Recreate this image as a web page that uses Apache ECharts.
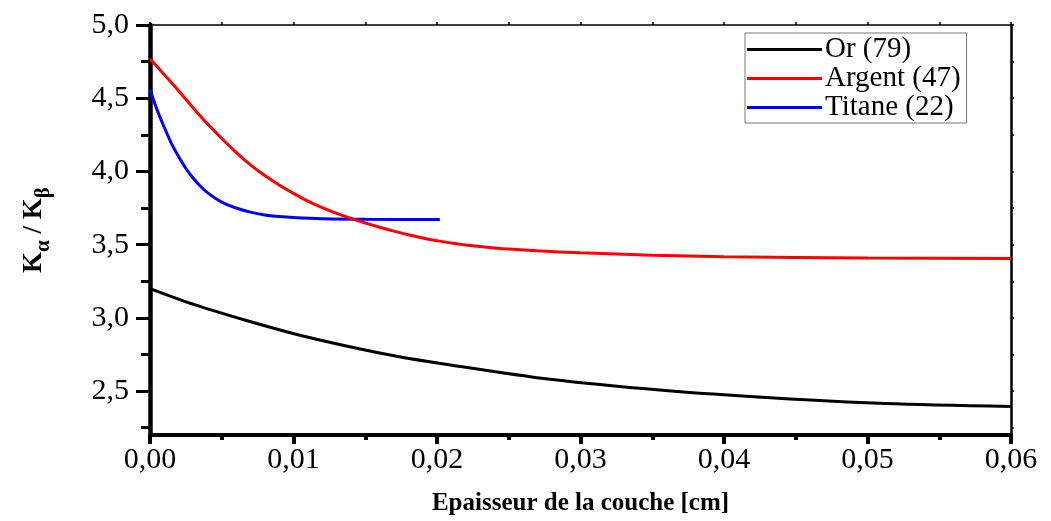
<!DOCTYPE html>
<html>
<head>
<meta charset="utf-8">
<script src="https://cdn.jsdelivr.net/npm/echarts@6.0.0/dist/echarts.min.js"></script>
<style>
html,body{margin:0;padding:0;background:#fff;}
#chart{width:1051px;height:521px;}
</style>
</head>
<body>
<div id="chart"></div>
<script>
// ---- data ----
var seriesNames = ['Or (79)', 'Argent (47)', 'Titane (22)'];
var seriesColors = ['#000000', '#ff0000', '#0000ff'];

var orX = [0, 0.0031, 0.0066, 0.0101, 0.0136, 0.0171, 0.0205, 0.0279, 0.0357, 0.0435, 0.0512, 0.06];
var orY = [3.20, 3.09, 2.985, 2.89, 2.81, 2.74, 2.685, 2.58, 2.505, 2.452, 2.415, 2.395];

var argentX = [0, 0.001, 0.002, 0.003, 0.004, 0.005, 0.006, 0.007, 0.008, 0.009, 0.010, 0.011, 0.012, 0.013, 0.014, 0.015, 0.016, 0.017, 0.018, 0.019, 0.020, 0.022, 0.024, 0.027, 0.030, 0.035, 0.040, 0.050, 0.060];
var argentY = [4.77, 4.66, 4.55, 4.435, 4.325, 4.225, 4.13, 4.045, 3.972, 3.908, 3.85, 3.797, 3.752, 3.713, 3.679, 3.648, 3.619, 3.592, 3.567, 3.545, 3.527, 3.497, 3.477, 3.458, 3.444, 3.428, 3.418, 3.408, 3.405];

var titaneX = [0, 0.0005, 0.001, 0.0015, 0.002, 0.0025, 0.003, 0.0035, 0.004, 0.005, 0.006, 0.007, 0.008, 0.009, 0.010, 0.012, 0.015, 0.0202];
var titaneY = [4.56, 4.42, 4.30, 4.19, 4.10, 4.02, 3.955, 3.90, 3.855, 3.79, 3.75, 3.722, 3.703, 3.692, 3.685, 3.677, 3.673, 3.672];

var xTicks = [0, 0.01, 0.02, 0.03, 0.04, 0.05, 0.06];
var yMajorTicks = [2.5, 3.0, 3.5, 4.0, 4.5, 5.0];
var yMinorTicks = [2.25, 2.75, 3.25, 3.75, 4.25, 4.75];
var yRightTicks = [2.25, 2.5, 2.75, 3.0, 3.25, 3.5, 3.75, 4.0, 4.25, 4.5, 4.75, 5.0];

var xName = 'Epaisseur de la couche [cm]';
// ---- build ----
function pairs(xs, ys){ return xs.map(function(x,i){ return [x, ys[i]]; }); }
var seriesData = [pairs(orX, orY), pairs(argentX, argentY), pairs(titaneX, titaneY)];

var SERIF = '"Liberation Serif", "Times New Roman", serif';
var Y_MIN = 2.2, Y_MAX = 5.0;

var chart = echarts.init(document.getElementById('chart'));
var option = {
  animation: false,
  backgroundColor: '#ffffff',
  grid: { left: 150, right: 40, top: 25, bottom: 80, containLabel: false },
  legend: {
    orient: 'vertical',
    left: 745, top: 33,
    itemWidth: 75, itemHeight: 3, itemGap: 0,
    icon: 'rect',
    padding: [2, 6, 1, 2],
    borderColor: '#777', borderWidth: 1,
    textStyle: { fontFamily: SERIF, fontSize: 29, color: '#000', lineHeight: 27, padding: [0,0,0,-2] },
    data: seriesNames
  },
  xAxis: [
    {
      type: 'value', position: 'bottom', min: 0, max: 0.06, interval: 0.01,
      axisLine: { show: true, onZero: false, lineStyle: { color: '#000', width: 4 } },
      axisTick: { show: true, length: 9, lineStyle: { color: '#000', width: 4 } },
      minorTick: { show: true, splitNumber: 2, length: 5, lineStyle: { color: '#000', width: 4 } },
      splitLine: { show: false },
      axisLabel: {
        margin: 10, fontFamily: SERIF, fontSize: 30, color: '#000',
        customValues: xTicks,
        formatter: function(v){ return v.toFixed(2).replace('.', ','); }
      },
      name: xName, nameLocation: 'middle', nameGap: 56,
      nameTextStyle: { fontFamily: SERIF, fontSize: 25, fontWeight: 'bold', color: '#000' }
    },
    {
      type: 'value', position: 'top', min: 0, max: 0.06, interval: 0.005,
      axisLine: { show: true, onZero: false, lineStyle: { color: '#000', width: 1.5 } },
      axisTick: { show: true, length: 3, lineStyle: { color: '#000', width: 1.5 } },
      axisLabel: { show: false }, splitLine: { show: false }
    }
  ],
  yAxis: [
    {
      type: 'value', position: 'left', min: Y_MIN, max: Y_MAX,
      axisLine: { show: true, onZero: false, lineStyle: { color: '#000', width: 4.5 } },
      axisTick: { show: true, length: 14, customValues: yMajorTicks, lineStyle: { color: '#000', width: 3 } },
      splitLine: { show: false },
      axisLabel: {
        margin: 21, fontFamily: SERIF, fontSize: 30, color: '#000',
        customValues: yMajorTicks,
        formatter: function(v){ return v.toFixed(1).replace('.', ','); }
      },
      name: '{k|K}{s|α}{k| / K}{s|β}', nameLocation: 'middle', nameGap: 102, nameRotate: 90,
      nameTextStyle: {
        color: '#000',
        rich: {
          k: { fontFamily: SERIF, fontSize: 27, fontWeight: 'bold', color: '#000', lineHeight: 27, verticalAlign: 'top' },
          s: { fontFamily: SERIF, fontSize: 21, fontWeight: 'bold', color: '#000', lineHeight: 21, verticalAlign: 'top', padding: [12, 0, 0, 0] }
        }
      }
    },
    {
      type: 'value', position: 'left', min: Y_MIN, max: Y_MAX,
      axisLine: { show: false },
      axisTick: { show: true, length: 9, customValues: yMinorTicks, lineStyle: { color: '#000', width: 3 } },
      axisLabel: { show: false }, splitLine: { show: false }
    },
    {
      type: 'value', position: 'right', min: Y_MIN, max: Y_MAX,
      axisLine: { show: true, onZero: false, lineStyle: { color: '#000', width: 2.5 } },
      axisTick: { show: true, length: 3, customValues: yRightTicks, lineStyle: { color: '#000', width: 1.5 } },
      axisLabel: { show: false }, splitLine: { show: false }
    }
  ],
  series: seriesNames.map(function(name, i){
    return {
      name: name, type: 'line', xAxisIndex: 0, yAxisIndex: 0,
      data: seriesData[i],
      smooth: 0.3,
      showSymbol: false, symbol: 'none',
      lineStyle: { color: seriesColors[i], width: 3 },
      itemStyle: { color: seriesColors[i] },
      z: 5 - i
    };
  })
};
chart.setOption(option);
</script>
</body>
</html>
